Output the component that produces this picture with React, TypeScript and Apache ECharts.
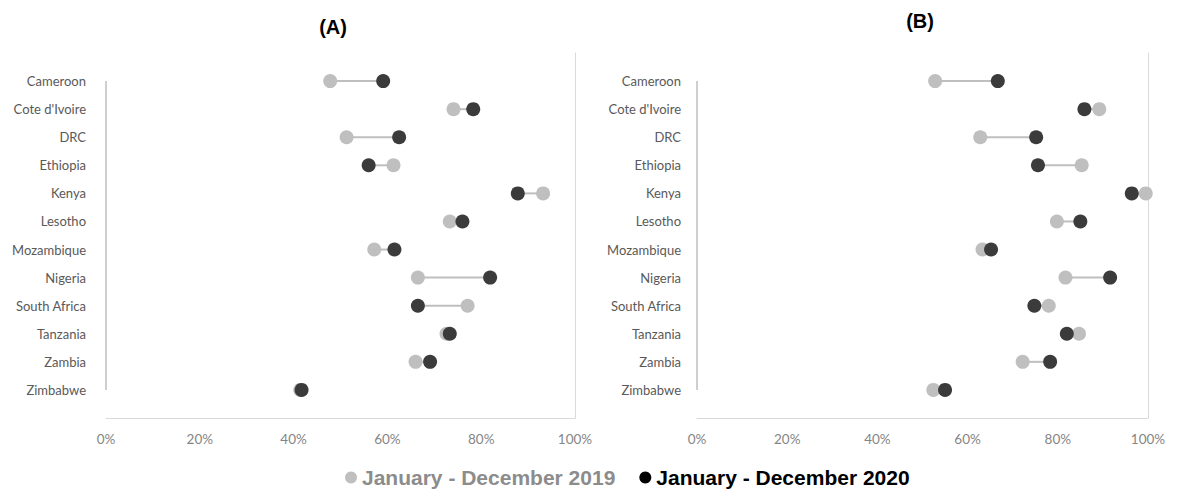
import React, { useEffect, useRef } from "react";
import * as echarts from "echarts";

const countries = [
  "Cameroon", "Cote d'Ivoire", "DRC", "Ethiopia", "Kenya", "Lesotho",
  "Mozambique", "Nigeria", "South Africa", "Tanzania", "Zambia", "Zimbabwe",
];
const a2019 = [0.478, 0.741, 0.513, 0.613, 0.932, 0.733, 0.572, 0.665, 0.771, 0.726, 0.66, 0.414];
const a2020 = [0.591, 0.783, 0.625, 0.56, 0.878, 0.76, 0.615, 0.819, 0.665, 0.733, 0.691, 0.417];
const b2019 = [0.528, 0.892, 0.628, 0.853, 0.995, 0.798, 0.633, 0.817, 0.78, 0.847, 0.722, 0.524];
const b2020 = [0.667, 0.859, 0.752, 0.756, 0.964, 0.85, 0.652, 0.916, 0.748, 0.82, 0.783, 0.55];
const xTicks = [0, 0.2, 0.4, 0.6, 0.8, 1];
const seriesNames = ["January - December 2019", "January - December 2020"];
const panelTitles = ["(A)", "(B)"];

const LIGHT = "#bfbfbf";
const DARK = "#3b3b3b";
const FONT = "Lato, 'Open Sans', sans-serif";

const rowY = (i: number) => countries.length - i;

export default function App() {
  const ref = useRef<HTMLDivElement>(null);
  useEffect(() => {
    if (!ref.current) return;
    const chart = echarts.init(ref.current, undefined, { renderer: "svg" });
    const panels = [
      { d19: a2019, d20: a2020, grid: { left: 106, right: 603, top: 53, bottom: 71 }, labelMargin: 20 },
      { d19: b2019, d20: b2020, grid: { left: 697, right: 30, top: 53, bottom: 71 }, labelMargin: 16 },
    ];
    const grids: any[] = [];
    const xAxes: any[] = [];
    const yAxes: any[] = [];
    const series: any[] = [];
    panels.forEach((p, gi) => {
      grids.push({ ...p.grid, containLabel: false });
      xAxes.push({
        type: "value",
        gridIndex: gi,
        min: 0,
        max: 1,
        interval: 0.2,
        axisLine: { show: true, lineStyle: { color: "#d9d9d9", width: 1 } },
        axisTick: { show: false },
        splitLine: { show: false },
        axisLabel: {
          margin: 14,
          color: "#858585",
          fontFamily: FONT,
          fontSize: 13.5,
          formatter: (v: number) => (xTicks.some((t) => Math.abs(t - v) < 1e-6) ? `${Math.round(v * 100)}%` : ""),
        },
      });
      yAxes.push({
        type: "value",
        gridIndex: gi,
        min: 0,
        max: countries.length + 1,
        interval: 1,
        axisLine: { show: false },
        axisTick: { show: false },
        splitLine: { show: false },
        axisLabel: {
          margin: p.labelMargin,
          color: "#595959",
          fontFamily: FONT,
          fontSize: 13,
          formatter: (v: number) => (v >= 1 && v <= countries.length ? countries[countries.length - v] : ""),
        },
      });
      yAxes.push({
        type: "value",
        gridIndex: gi,
        position: "right",
        min: 0,
        max: countries.length + 1,
        axisLine: { show: true, lineStyle: { color: "#d9d9d9", width: 1 } },
        axisTick: { show: false },
        axisLabel: { show: false },
        splitLine: { show: false },
      });
      const yi = gi * 2;
      series.push({
        type: "line",
        xAxisIndex: gi,
        yAxisIndex: yi,
        data: [[0, 1], [0, countries.length]],
        showSymbol: false,
        symbol: "none",
        silent: true,
        lineStyle: { color: LIGHT, width: 1.5 },
        z: 1,
      });
      series.push({
        type: "custom",
        xAxisIndex: gi,
        yAxisIndex: yi,
        silent: true,
        data: countries.map((_, i) => [p.d19[i], p.d20[i], rowY(i)]),
        encode: { x: [0, 1], y: 2 },
        renderItem: (params: any, api: any) => {
          const y = api.value(2);
          const p1 = api.coord([api.value(0), y]);
          const p2 = api.coord([api.value(1), y]);
          return {
            type: "line",
            shape: { x1: p1[0], y1: p1[1], x2: p2[0], y2: p2[1] },
            style: { stroke: LIGHT, lineWidth: 2 },
          };
        },
        z: 2,
      });
      series.push({
        name: seriesNames[0],
        type: "scatter",
        xAxisIndex: gi,
        yAxisIndex: yi,
        symbolSize: 14,
        itemStyle: { color: LIGHT, opacity: 1 },
        data: p.d19.map((v, i) => [v, rowY(i)]),
        z: 3,
      });
      series.push({
        name: seriesNames[1],
        type: "scatter",
        xAxisIndex: gi,
        yAxisIndex: yi,
        symbolSize: 14,
        itemStyle: { color: DARK, opacity: 1 },
        data: p.d20.map((v, i) => [v, rowY(i)]),
        z: 4,
      });
    });

    chart.setOption({
      animation: false,
      backgroundColor: "#ffffff",
      grid: grids,
      xAxis: xAxes,
      yAxis: yAxes,
      series,
      legend: {
        left: 345,
        top: 467,
        padding: 0,
        itemGap: 24,
        icon: "circle",
        itemWidth: 12,
        itemHeight: 12,
        selectedMode: false,
        textStyle: {
          fontFamily: "'Liberation Sans', Arial, sans-serif",
          fontWeight: "bold",
          fontSize: 21,
          lineHeight: 21,
        },
        data: [
          { name: seriesNames[0], itemStyle: { color: LIGHT }, textStyle: { color: "#8c8c8c" } },
          { name: seriesNames[1], itemStyle: { color: "#000000" }, textStyle: { color: "#000000" } },
        ],
      },
      graphic: [
        {
          type: "text",
          x: 333,
          y: 27,
          style: {
            text: panelTitles[0],
            font: "bold 20px 'Liberation Sans', Arial, sans-serif",
            fill: "#000",
            textAlign: "center",
            textVerticalAlign: "middle",
          },
        },
        {
          type: "text",
          x: 920,
          y: 21,
          style: {
            text: panelTitles[1],
            font: "bold 20px 'Liberation Sans', Arial, sans-serif",
            fill: "#000",
            textAlign: "center",
            textVerticalAlign: "middle",
          },
        },
      ],
    });
    return () => chart.dispose();
  }, []);
  return <div ref={ref} style={{ position: "fixed", left: 0, top: 0, width: 1178, height: 489 }} />;
}
